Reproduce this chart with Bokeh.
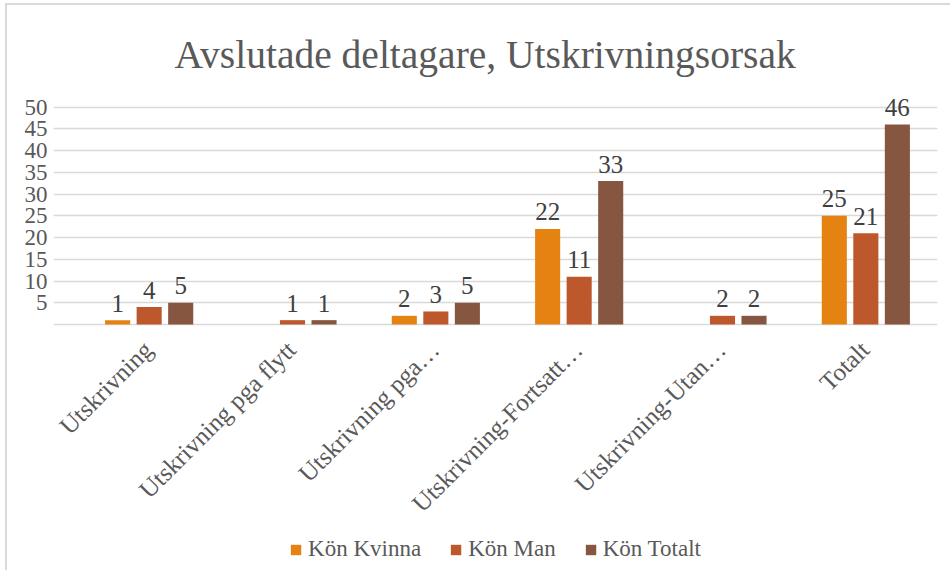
from bokeh.plotting import figure
from bokeh.models import (ColumnDataSource, Range1d, FixedTicker,
                          Legend, LegendItem)
from bokeh.transform import dodge
from bokeh.core.properties import value
from bokeh.embed import file_html
from bokeh.resources import INLINE
import math

# ---- data ----
categories = ["Utskrivning", "Utskrivning pga flytt", "Utskrivning pga…",
              "Utskrivning-Fortsatt…", "Utskrivning-Utan…", "Totalt"]
kvinna = [1, None, 2, 22, None, 25]
man = [4, 1, 3, 11, 2, 21]
totalt = [5, 1, 5, 33, 2, 46]
series_names = ["Kön Kvinna", "Kön Man", "Kön Totalt"]
y_ticks = [5, 10, 15, 20, 25, 30, 35, 40, 45, 50]
grid_ticks = [0] + y_ticks
title_text = "Avslutade deltagare, Utskrivningsorsak"

colors = ["#E48312", "#BD582C", "#865640"]
offsets = [-0.22, 0.0, 0.22]
FONT = "Liberation Serif"
LEGEND_FONT = "serif"

# layout (pixels)
FRAME_W, FRAME_H = 884, 487
TOP_PX = 239          # pixels from y=0 up to the top of the frame
Y_TOP = 55
ppu = TOP_PX / Y_TOP
y_bottom = -(FRAME_H - TOP_PX) / ppu
x_left = -24 / (860 / len(categories))

xi = [i + 0.5 for i in range(len(categories))]

p = figure(x_range=Range1d(x_left, len(categories)),
           y_range=Range1d(y_bottom, Y_TOP),
           frame_width=FRAME_W, frame_height=FRAME_H,
           output_backend="svg", toolbar_location=None,
           min_border_left=46, min_border_right=15, min_border_top=80,
           min_border_bottom=0)
p.styles = {"box-shadow": "-2px -2px 0 0 #D9D9D9", "margin-left": "7px",
            "margin-top": "5px"}

renderers = []
for name, vals, col, off in zip(series_names, [kvinna, man, totalt], colors, offsets):
    tops = [float("nan") if v is None else v for v in vals]
    src = ColumnDataSource(dict(x=xi, top=tops))
    r = p.vbar(x=dodge("x", off), top="top", width=0.175,
               source=src, fill_color=col, line_color=None)
    renderers.append((name, r))
    lx = [c for c, v in zip(xi, vals) if v is not None]
    ly = [v for v in vals if v is not None]
    lt = [str(v) for v in vals if v is not None]
    lsrc = ColumnDataSource(dict(x=lx, y=ly, t=lt))
    p.text(x=dodge("x", off), y="y", text="t", source=lsrc,
           text_align="center", text_baseline="alphabetic", y_offset=-17,
           text_font=value(FONT), text_font_size="25px", text_color="#404040")

# category labels (rotated 45 degrees, ending under each category)
csrc = ColumnDataSource(dict(x=xi, y=[0] * len(categories), t=categories))
p.text(x="x", y="y", text="t", source=csrc, angle=math.pi / 4,
       text_align="right", text_baseline="middle", y_offset=21, x_offset=-1,
       text_font=value(FONT), text_font_size="25px", text_color="#595959")

# title
p.title.text = title_text
p.title.text_font = FONT
p.title.text_font_size = "39.5px"
p.title.text_font_style = "normal"
p.title.text_color = "#595959"
p.title.align = "left"
p.title.offset = 121
p.title.standoff = 17

# axes
p.xaxis.visible = False
p.yaxis.ticker = FixedTicker(ticks=y_ticks)
p.yaxis.axis_line_color = None
p.yaxis.major_tick_line_color = None
p.yaxis.minor_tick_line_color = None
p.yaxis.major_label_standoff = 0
p.yaxis.major_label_text_font = FONT
p.yaxis.major_label_text_font_size = "23px"
p.yaxis.major_label_text_color = "#595959"

p.xgrid.grid_line_color = None
p.ygrid.ticker = FixedTicker(ticks=grid_ticks)
p.ygrid.grid_line_color = "#D9D9D9"
p.ygrid.grid_line_width = 1.5
p.outline_line_color = None

legend = Legend(items=[LegendItem(label=n, renderers=[r]) for n, r in renderers],
                orientation="horizontal", location="bottom_center",
                glyph_width=13, glyph_height=13, label_standoff=6, spacing=28,
                padding=0, margin=10, border_line_color=None,
                background_fill_alpha=0,
                label_text_font=LEGEND_FONT, label_text_font_size="23px",
                label_text_font_style="normal",
                label_text_color="#595959")
p.add_layout(legend, "center")

open("out.html", "w").write(file_html(p, INLINE))
